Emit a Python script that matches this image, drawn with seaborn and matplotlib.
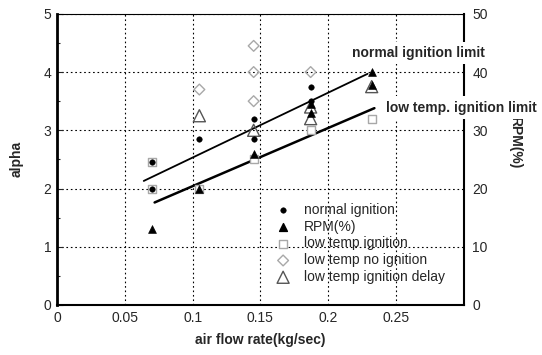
"""Ignition limits vs. air flow rate: alpha (left) and RPM% (right)."""
import matplotlib
matplotlib.use("Agg")
import matplotlib.pyplot as plt
from matplotlib.ticker import MultipleLocator
import numpy as np
import seaborn as sns

normal_x = [0.07, 0.07, 0.105, 0.145, 0.145, 0.187, 0.187]
normal_alpha = [2.45, 2.0, 2.85, 3.2, 2.85, 3.75, 3.5]

rpm_x = [0.07, 0.105, 0.145, 0.187, 0.187, 0.232, 0.232]
rpm_pct = [13, 20, 26, 34.5, 33, 40, 37.8]

lt_ign_x = [0.07, 0.07, 0.105, 0.145, 0.187, 0.232]
lt_ign_alpha = [2.45, 2.0, 2.0, 2.5, 3.0, 3.2]

lt_noign_x = [0.105, 0.145, 0.145, 0.145, 0.187]
lt_noign_alpha = [3.7, 4.45, 4.0, 3.5, 4.0]

lt_delay_x = [0.105, 0.145, 0.187, 0.187, 0.232]
lt_delay_alpha = [3.25, 3.0, 3.4, 3.2, 3.75]

# fitted limit lines (end points)
normal_limit_x = [0.064, 0.229]
normal_limit_y = [2.13, 3.97]
low_limit_x = [0.072, 0.234]
low_limit_y = [1.76, 3.38]


def main():
    sns.set_style("white")
    plt.rcParams["font.family"] = ["Liberation Sans", "DejaVu Sans"]
    plt.rcParams["xtick.direction"] = "in"
    plt.rcParams["ytick.direction"] = "in"

    fig = plt.figure(figsize=(5.42, 3.55), dpi=100)
    ax = fig.add_axes([0.105, 0.141, 0.751, 0.820])
    ax2 = ax.twinx()

    ax.set_xlim(0, 0.3)
    ax.set_ylim(0, 5)
    ax2.set_ylim(0, 50)
    ax.xaxis.set_minor_locator(MultipleLocator(0.01))
    ax.yaxis.set_major_locator(MultipleLocator(1))
    ax.yaxis.set_minor_locator(MultipleLocator(0.5))
    ax2.yaxis.set_major_locator(MultipleLocator(10))
    ax.set_xticks(np.arange(0, 0.26, 0.05))
    ax.set_xticklabels(["0", "0.05", "0.1", "0.15", "0.2", "0.25"])

    ax.grid(True, which="major", color="black", linestyle=(0, (1.5, 2.5)), lw=0.8)
    ax.tick_params(which="major", length=4, width=0.8, labelsize=10, pad=4)
    ax.tick_params(which="minor", length=2.5, width=0.8)
    ax.tick_params(axis="x", which="both", top=False)
    ax.tick_params(axis="y", which="both", right=False)
    ax2.tick_params(length=0, labelsize=10, pad=6)

    for side, lw in [("left", 2.0), ("bottom", 1.5), ("top", 0.8)]:
        ax.spines[side].set_linewidth(lw)
        ax.spines[side].set_color("black")
    ax.spines["right"].set_visible(False)
    for side in ["left", "bottom", "top"]:
        ax2.spines[side].set_visible(False)
    ax2.spines["right"].set_linewidth(1.5)
    ax2.spines["right"].set_color("black")

    # limit lines
    sns.lineplot(x=normal_limit_x, y=normal_limit_y, ax=ax, color="black", lw=1.3)
    sns.lineplot(x=low_limit_x, y=low_limit_y, ax=ax, color="black", lw=1.8)

    # scatter series
    sns.scatterplot(x=lt_ign_x, y=lt_ign_alpha, ax=ax, marker="s", s=40,
                    facecolor="white", edgecolor="#a8a8a8", linewidth=1.0,
                    label="low temp ignition", zorder=3)
    sns.scatterplot(x=lt_noign_x, y=lt_noign_alpha, ax=ax, marker="D", s=30,
                    facecolor="none", edgecolor="#a8a8a8", linewidth=1.0,
                    label="low temp no ignition", zorder=3)
    sns.scatterplot(x=lt_delay_x, y=lt_delay_alpha, ax=ax, marker="^", s=75,
                    facecolor="none", edgecolor="#555555", linewidth=1.0,
                    label="low temp ignition delay", zorder=3)
    sns.scatterplot(x=normal_x, y=normal_alpha, ax=ax, marker="o", s=16,
                    color="black", edgecolor="black", label="normal ignition", zorder=4)
    sns.scatterplot(x=rpm_x, y=rpm_pct, ax=ax2, marker="^", s=32,
                    color="black", edgecolor="black", zorder=4, legend=False)

    # legend (collect handles, RPM proxy from ax)
    h, l = ax.get_legend_handles_labels()
    rpm_handle = ax.scatter([], [], marker="^", s=32, color="black")
    order = ["normal ignition", "RPM(%)", "low temp ignition",
             "low temp no ignition", "low temp ignition delay"]
    lookup = dict(zip(l, h))
    lookup["RPM(%)"] = rpm_handle
    ax.legend([lookup[k] for k in order], order, loc="upper left",
              bbox_to_anchor=(0.525, 0.37), frameon=False, fontsize=10,
              handlelength=1.0, handletextpad=1.0, labelspacing=0.2,
              borderaxespad=0)

    # limit labels, white boxes break the right spine like the original
    box = dict(facecolor="white", edgecolor="none", pad=3)
    ax2.text(0.2175, 43.3, "normal ignition limit", fontsize=10, fontweight="bold",
             va="center", ha="left", bbox=box, clip_on=False, zorder=5)
    ax2.text(0.2425, 33.9, "low temp. ignition limit", fontsize=10, fontweight="bold",
             va="center", ha="left", bbox=box, clip_on=False, zorder=5)

    ax.set_xlabel("air flow rate(kg/sec)", fontsize=10, fontweight="bold", labelpad=6)
    ax.set_ylabel("alpha", fontsize=10, fontweight="bold", labelpad=14)
    ax2.set_ylabel("RPM(%)", fontsize=10, fontweight="bold", rotation=270,
                   va="center")
    ax2.yaxis.set_label_coords(1.125, 0.56)

    fig.savefig("out.png", dpi=100)
    plt.close(fig)


if __name__ == "__main__":
    main()
